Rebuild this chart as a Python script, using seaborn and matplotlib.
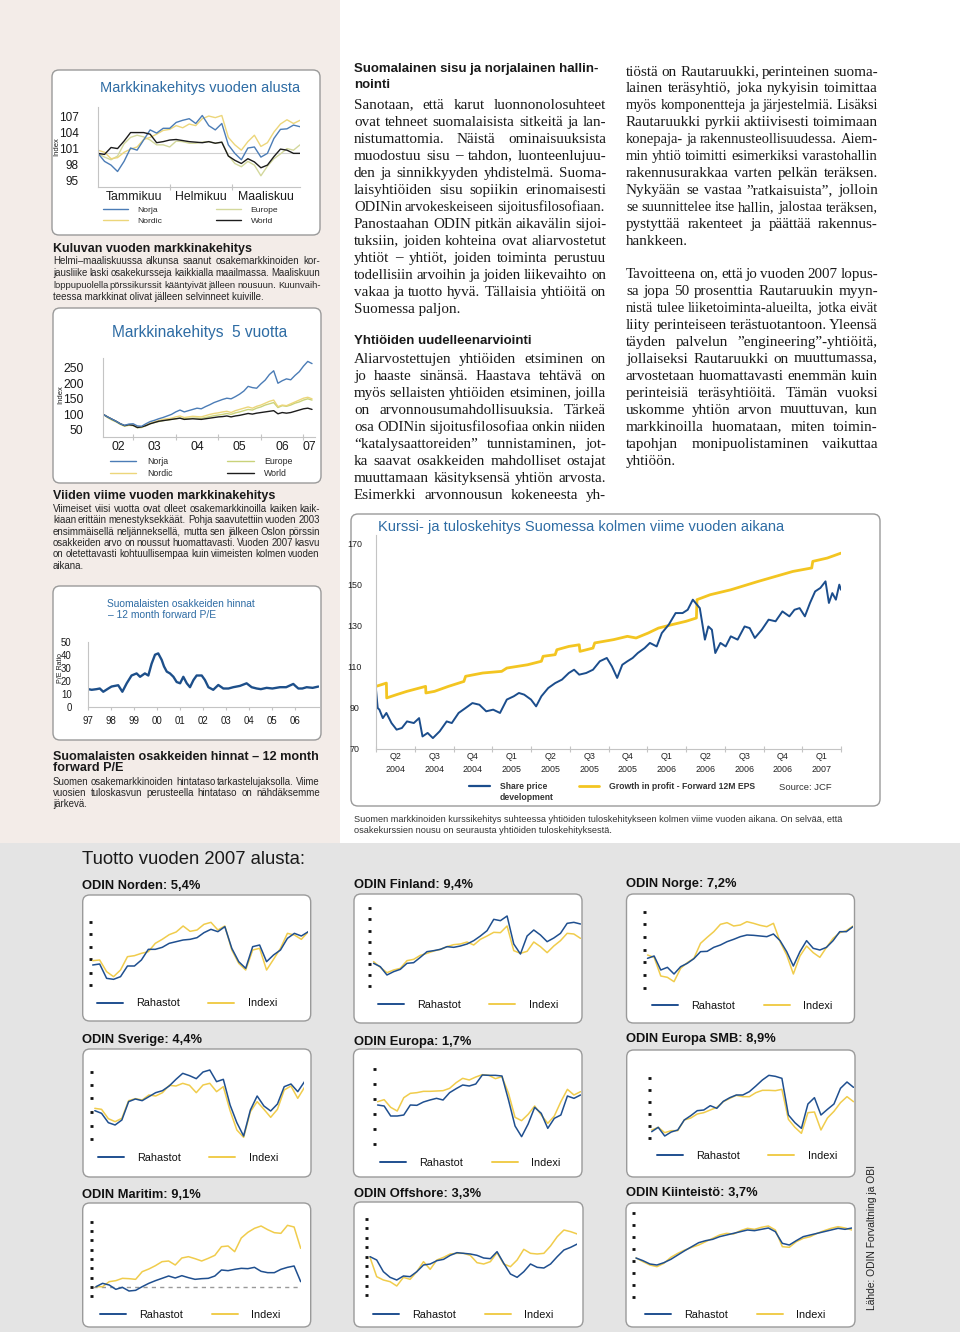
import matplotlib
matplotlib.use("Agg")
import matplotlib.pyplot as plt
import seaborn as sns
from matplotlib.patches import Rectangle, FancyBboxPatch
from matplotlib.lines import Line2D

# ---------------------------------------------------------------- data
# Chart 1: market development since start of year (trading day index)
ytd_day = [0, 2, 4, 6, 8, 10, 12, 14, 16, 18, 20, 22, 24, 26, 28, 30,
           32, 34, 36, 38, 40, 42, 44, 46, 48, 50, 52, 54, 56, 58, 60, 62]
ytd_norja = [100.0, 98.5, 97.8, 96.6, 98.5, 101.0, 100.6, 102.5, 104.4, 103.8, 104.7, 104.7, 105.8, 106.2, 106.5, 105.6,
             107.1, 105.2, 104.4, 105.6, 101.6, 100.0, 98.8, 101.0, 101.2, 99.3, 100.0, 102.8, 104.5, 104.6, 105.3, 105.0]
ytd_nordic = [100.6, 100.2, 99.0, 99.2, 100.2, 100.8, 101.2, 102.6, 103.0, 103.6, 104.3, 104.5, 105.2, 104.8, 105.5, 105.2,
              106.5, 107.0, 106.7, 107.1, 103.0, 101.6, 100.6, 102.2, 103.4, 101.3, 102.0, 104.0, 105.5, 106.3, 105.6, 106.2]
ytd_europe = [100.0, 99.3, 98.8, 99.5, 101.8, 103.0, 103.4, 103.1, 102.5, 101.6, 101.6, 101.2, 102.3, 102.2, 101.9, 101.9,
              102.1, 102.2, 101.9, 102.1, 99.6, 98.1, 97.5, 98.5, 97.8, 95.8, 97.6, 99.0, 99.9, 100.9, 100.6, 101.6]
ytd_world = [100.0, 99.8, 101.1, 100.9, 102.3, 103.9, 103.9, 103.9, 103.6, 102.0, 102.2, 102.5, 102.6, 102.4, 102.2, 102.1,
             102.0, 102.2, 101.9, 102.1, 99.5, 98.7, 98.1, 99.0, 98.4, 97.3, 97.8, 99.4, 100.8, 100.6, 100.0, 100.0]
ytd_ticks = [95, 98, 101, 104, 107]
ytd_month_edges = [0, 22, 41, 62]
ytd_months = ["Tammikuu", "Helmikuu", "Maaliskuu"]
ytd_base = 100

# Chart 2: five-year market development
five_yr = [2002.3, 2002.4, 2002.5, 2002.6, 2002.7, 2002.8, 2002.9, 2003.0, 2003.1, 2003.2,
           2003.3, 2003.4, 2003.5, 2003.6, 2003.7, 2003.8, 2003.9, 2004.0, 2004.1, 2004.2,
           2004.3, 2004.4, 2004.5, 2004.6, 2004.7, 2004.8, 2004.9, 2005.0, 2005.1, 2005.2,
           2005.3, 2005.4, 2005.5, 2005.6, 2005.7, 2005.8, 2005.9, 2006.0, 2006.1, 2006.2,
           2006.3, 2006.4, 2006.5, 2006.6, 2006.7, 2006.8, 2006.9, 2007.0, 2007.1, 2007.2]
five_norja = [100, 92, 85, 78, 70, 65, 69, 70, 63, 62, 70, 77, 81, 86, 90, 95, 100, 108, 114, 108,
              112, 116, 120, 118, 125, 131, 138, 143, 148, 152, 150, 157, 165, 175, 190, 186, 184, 198, 210, 228,
              240, 200, 208, 214, 211, 225, 237, 255, 270, 263]
five_nordic = [100, 92, 84, 78, 70, 64, 67, 66, 59, 60, 66, 72, 76, 80, 84, 86, 88, 92, 95, 90,
               92, 94, 93, 92, 96, 100, 103, 105, 108, 110, 106, 112, 116, 120, 124, 120, 126, 130, 136, 142,
               146, 125, 130, 128, 134, 140, 146, 152, 155, 150]
five_europe = [100, 90, 82, 76, 68, 62, 65, 64, 57, 58, 64, 70, 74, 77, 80, 82, 84, 86, 88, 86,
               87, 88, 88, 87, 90, 93, 96, 98, 100, 103, 100, 105, 108, 112, 116, 114, 120, 124, 130, 134,
               138, 122, 128, 126, 130, 136, 140, 146, 150, 146]
five_world = [100, 92, 85, 78, 70, 64, 67, 65, 58, 60, 64, 70, 74, 78, 80, 82, 84, 86, 88, 84,
              85, 86, 85, 84, 86, 88, 90, 92, 93, 95, 92, 95, 97, 100, 103, 101, 104, 106, 108, 110,
              112, 102, 106, 104, 106, 110, 114, 118, 120, 116]
five_ticks = [50, 100, 150, 200, 250]
five_year_edges = [2003, 2004, 2005, 2006, 2007]
five_year_labels = ["02", "03", "04", "05", "06", "07"]

# Chart 3: Finnish 12 month forward P/E
pe_year = [1997.0, 1997.15, 1997.36, 1997.5, 1997.65, 1997.87, 1998.01, 1998.15, 1998.3, 1998.48,
           1998.67, 1998.88, 1999.1, 1999.25, 1999.46, 1999.61, 1999.75, 1999.9, 2000.04, 2000.19,
           2000.29, 2000.41, 2000.55, 2000.7, 2000.84, 2000.99, 2001.13, 2001.28, 2001.42, 2001.57,
           2001.71, 2001.93, 2002.07, 2002.22, 2002.43, 2002.65, 2002.87, 2003.09, 2003.3, 2003.59,
           2003.88, 2004.1, 2004.32, 2004.5, 2004.75, 2005.0, 2005.33, 2005.6, 2005.91, 2006.0,
           2006.13, 2006.3, 2006.49, 2006.75, 2007.0]
pe_ratio = [13.5, 13.0, 13.5, 14.0, 11.5, 14.0, 15.5, 16.0, 16.5, 11.5,
            18.0, 24.0, 25.6, 23.0, 25.6, 24.0, 33.0, 40.0, 41.0, 36.0,
            31.0, 27.0, 25.6, 23.0, 19.0, 18.0, 23.0, 18.0, 15.0, 20.5,
            24.0, 24.0, 20.5, 15.0, 13.0, 16.7, 14.0, 14.0, 15.0, 16.0,
            18.0, 15.0, 14.0, 13.5, 14.5, 14.0, 15.0, 15.0, 17.5, 16.0,
            14.0, 14.0, 15.0, 14.5, 15.5]
pe_ticks = [0, 10, 20, 30, 40, 50]
pe_tick_years = [1997, 1998, 1999, 2000, 2001, 2002, 2003, 2004, 2005, 2006]
pe_tick_labels = ["97", "98", "99", "00", "01", "02", "03", "04", "05", "06"]

# Chart 4: Finnish share price vs. forward EPS (JCF)
jcf_price_t = [2004.250, 2004.261, 2004.272, 2004.294, 2004.317, 2004.350, 2004.383, 2004.417, 2004.450, 2004.494,
               2004.528, 2004.550, 2004.583, 2004.617, 2004.661, 2004.706, 2004.739, 2004.783, 2004.828, 2004.872,
               2004.917, 2004.961, 2005.006, 2005.050, 2005.094, 2005.139, 2005.172, 2005.206, 2005.250, 2005.283,
               2005.317, 2005.361, 2005.406, 2005.450, 2005.494, 2005.528, 2005.561, 2005.606, 2005.650, 2005.694,
               2005.739, 2005.772, 2005.806, 2005.839, 2005.872, 2005.906, 2005.939, 2005.983, 2006.017, 2006.061,
               2006.094, 2006.139, 2006.183, 2006.228, 2006.261, 2006.294, 2006.339, 2006.372, 2006.394, 2006.417,
               2006.439, 2006.472, 2006.506, 2006.539, 2006.583, 2006.628, 2006.661, 2006.694, 2006.739, 2006.783,
               2006.828, 2006.872, 2006.917, 2006.950, 2006.983, 2007.017, 2007.050, 2007.083, 2007.117, 2007.150,
               2007.172, 2007.194, 2007.217, 2007.239, 2007.250]
jcf_price = [98.8, 89.9, 89.1, 85.0, 87.5, 82.6, 79.4, 80.2, 83.4, 82.6,
             85.0, 76.1, 77.8, 75.3, 78.6, 83.4, 82.6, 87.5, 89.9, 92.3,
             91.5, 88.3, 89.1, 87.5, 94.0, 95.6, 97.2, 96.4, 94.0, 90.7,
             95.6, 99.6, 102.0, 103.7, 106.9, 108.5, 106.1, 106.9, 108.5, 112.6,
             114.2, 110.1, 104.5, 110.9, 112.6, 114.2, 116.6, 119.0, 121.5, 119.8,
             126.3, 130.4, 136.0, 136.0, 137.6, 142.5, 138.4, 123.1, 129.5, 127.9,
             116.6, 121.5, 119.8, 124.7, 123.1, 129.5, 128.7, 123.9, 127.9, 132.8,
             132.0, 136.8, 134.4, 137.6, 138.4, 134.4, 140.9, 146.5, 148.2, 151.4,
             140.9, 145.7, 142.5, 149.8, 147.3]
jcf_eps_t = [2004.250, 2004.317, 2004.319, 2004.383, 2004.450, 2004.570, 2004.572, 2004.628, 2004.717, 2004.817,
             2004.828, 2004.939, 2005.061, 2005.094, 2005.228, 2005.317, 2005.328, 2005.406, 2005.417, 2005.494,
             2005.561, 2005.566, 2005.650, 2005.661, 2005.783, 2005.872, 2005.928, 2006.006, 2006.072, 2006.161,
             2006.250, 2006.317, 2006.321, 2006.406, 2006.539, 2006.717, 2006.828, 2006.939, 2007.061, 2007.068,
             2007.161, 2007.250]
jcf_eps = [100.4, 102.0, 94.8, 96.4, 98.0, 100.4, 97.2, 98.0, 100.4, 102.8,
           105.3, 106.9, 107.7, 109.3, 110.9, 112.6, 115.0, 115.8, 118.2, 119.8,
           120.6, 117.4, 119.0, 121.5, 123.1, 124.7, 123.9, 126.3, 128.7, 130.4,
           132.0, 133.6, 142.5, 144.9, 147.3, 151.4, 153.8, 156.2, 157.9, 161.1,
           162.7, 165.1]
jcf_ticks = [70, 90, 110, 130, 150, 170]
jcf_quarter_edges = [2004.25, 2004.5, 2004.75, 2005.0, 2005.25, 2005.5, 2005.75,
                     2006.0, 2006.25, 2006.5, 2006.75, 2007.0, 2007.25]
jcf_quarters = ["Q2\n2004", "Q3\n2004", "Q4\n2004", "Q1\n2005", "Q2\n2005", "Q3\n2005",
                "Q4\n2005", "Q1\n2006", "Q2\n2006", "Q3\n2006", "Q4\n2006", "Q1\n2007"]

# Fund charts (weekly index levels, fund vs. benchmark)
fund_week = list(range(1, 33))
norden_fund = [125, 128, 85, 82, 90, 122, 122, 140, 172, 172, 178, 190, 195, 200, 202, 207,
               222, 232, 225, 240, 175, 135, 115, 180, 185, 135, 155, 170, 205, 220, 212, 225]
norden_index = [138, 140, 105, 90, 110, 150, 153, 160, 165, 190, 202, 216, 224, 242, 226, 230,
                247, 253, 230, 242, 170, 130, 110, 170, 175, 110, 142, 175, 220, 215, 202, 225]
norden_ticks = [255, 217, 180, 143, 102, 64]
finland_fund = [220, 210, 185, 195, 202, 220, 222, 238, 255, 258, 262, 270, 268, 272, 278, 288,
                302, 318, 352, 348, 362, 278, 248, 302, 320, 305, 285, 296, 310, 340, 343, 338]
finland_index = [225, 208, 192, 200, 205, 228, 232, 244, 250, 257, 262, 270, 276, 278, 284, 275,
                 292, 302, 313, 312, 332, 258, 250, 256, 284, 270, 252, 272, 288, 310, 308, 295]
finland_ticks = [385, 352, 318, 285, 252, 218, 184, 151]
norge_fund = [235, 242, 200, 208, 188, 210, 220, 234, 255, 256, 268, 275, 285, 292, 300, 305,
              304, 302, 300, 308, 288, 255, 212, 255, 288, 265, 260, 268, 288, 315, 315, 330]
norge_index = [245, 238, 182, 178, 165, 205, 222, 235, 280, 298, 315, 337, 342, 332, 335, 345,
               340, 334, 330, 340, 285, 245, 188, 242, 272, 252, 238, 268, 295, 312, 318, 332]
norge_ticks = [375, 337, 299, 261, 223, 184, 146]
sverige_fund = [258, 250, 222, 215, 230, 285, 293, 288, 300, 312, 318, 332, 352, 370, 363, 354,
                374, 380, 345, 352, 275, 222, 182, 260, 302, 272, 257, 278, 330, 338, 315, 345]
sverige_index = [265, 262, 234, 225, 235, 288, 294, 290, 305, 302, 312, 334, 332, 340, 334, 312,
                 335, 340, 315, 330, 258, 200, 178, 255, 285, 262, 238, 262, 320, 332, 295, 328]
sverige_ticks = [375, 335, 295, 255, 213, 173]
europa_fund = [275, 272, 242, 242, 245, 275, 274, 284, 290, 295, 290, 312, 324, 335, 332, 338,
               365, 364, 364, 362, 290, 212, 180, 218, 268, 250, 205, 235, 245, 302, 295, 305]
europa_index = [285, 291, 268, 257, 297, 310, 312, 316, 316, 317, 318, 325, 342, 355, 350, 359,
                366, 364, 354, 360, 310, 238, 228, 247, 272, 245, 220, 242, 285, 322, 305, 315]
europa_ticks = [382, 338, 293, 248, 203, 159]
smb_fund = [195, 208, 182, 194, 200, 230, 243, 258, 260, 273, 265, 286, 297, 305, 305, 315,
            332, 350, 364, 361, 355, 245, 222, 205, 278, 297, 245, 262, 278, 325, 344, 328]
smb_index = [200, 208, 192, 198, 198, 230, 236, 248, 252, 260, 268, 285, 295, 304, 300, 300,
             312, 319, 319, 318, 322, 232, 208, 190, 252, 254, 200, 236, 256, 282, 300, 285]
smb_ticks = [355, 319, 283, 247, 211, 175]
maritim_fund = [180, 190, 185, 172, 178, 167, 169, 180, 190, 198, 205, 212, 206, 213, 207, 202,
                204, 205, 212, 230, 228, 232, 235, 234, 238, 226, 222, 222, 232, 238, 242, 195]
maritim_index = [180, 180, 195, 198, 205, 204, 202, 225, 233, 243, 255, 257, 245, 266, 270, 264,
                 257, 265, 274, 300, 302, 285, 326, 343, 355, 362, 351, 342, 340, 364, 359, 295]
maritim_ticks = [375, 347, 319, 291, 263, 235, 207, 179, 151]
maritim_base = 180
offshore_fund = [270, 260, 225, 208, 200, 212, 210, 225, 245, 248, 258, 262, 274, 282, 280, 278,
                 274, 266, 264, 285, 250, 218, 208, 225, 248, 238, 236, 248, 270, 290, 298, 308]
offshore_index = [268, 210, 200, 195, 182, 208, 202, 225, 255, 232, 260, 268, 278, 280, 280, 274,
                  252, 248, 255, 282, 248, 240, 260, 292, 280, 278, 280, 302, 330, 350, 345, 338]
offshore_ticks = [383, 355, 326, 298, 269, 241, 212, 183, 155]
kiint_fund = [266, 258, 248, 245, 252, 262, 275, 288, 300, 312, 318, 322, 330, 335, 340, 345,
              350, 348, 352, 356, 345, 310, 305, 318, 330, 335, 340, 345, 350, 355, 352, 356]
kiint_index = [266, 255, 245, 240, 250, 268, 280, 290, 298, 305, 315, 325, 335, 340, 338, 348,
               355, 352, 358, 362, 350, 300, 298, 315, 325, 330, 340, 348, 355, 360, 356, 350]
kiint_ticks = [401, 365, 329, 293, 257, 221, 185, 149]

# ---------------------------------------------------------------- text
left_h1 = "Kuluvan vuoden markkinakehitys"
left_p1 = ["Helmi–maaliskuussa alkunsa saanut osakemarkkinoiden kor-",
           "jausliike laski osakekursseja kaikkialla maailmassa. Maaliskuun",
           "loppupuolella pörssikurssit kääntyivät jälleen nousuun. Kuunvaih-",
           "teessa markkinat olivat jälleen selvinneet kuiville."]
left_h2 = "Viiden viime vuoden markkinakehitys"
left_p2 = ["Viimeiset viisi vuotta ovat olleet osakemarkkinoilla kaiken kaik-",
           "kiaan erittäin menestyksekkäät. Pohja saavutettiin vuoden 2003",
           "ensimmäisellä neljänneksellä, mutta sen jälkeen Oslon pörssin",
           "osakkeiden arvo on noussut huomattavasti. Vuoden 2007 kasvu",
           "on oletettavasti kohtuullisempaa kuin viimeisten kolmen vuoden",
           "aikana."]
left_h3 = ["Suomalaisten osakkeiden hinnat – 12 month", "forward P/E"]
left_p3 = ["Suomen osakemarkkinoiden hintataso tarkastelujaksolla. Viime",
           "vuosien tuloskasvun perusteella hintataso on nähdäksemme",
           "järkevä."]
col2_h1 = ["Suomalainen sisu ja norjalainen hallin-", "nointi"]
col2_p1 = ["Sanotaan, että karut luonnonolosuhteet",
           "ovat tehneet suomalaisista sitkeitä ja lan-",
           "nistumattomia. Näistä ominaisuuksista",
           "muodostuu sisu – tahdon, luonteenlujuu-",
           "den ja sinnikkyyden yhdistelmä. Suoma-",
           "laisyhtiöiden sisu sopiikin erinomaisesti",
           "ODINin arvokeskeiseen sijoitusfilosofiaan.",
           "Panostaahan ODIN pitkän aikavälin sijoi-",
           "tuksiin, joiden kohteina ovat aliarvostetut",
           "yhtiöt – yhtiöt, joiden toiminta perustuu",
           "todellisiin arvoihin ja joiden liikevaihto on",
           "vakaa ja tuotto hyvä.  Tällaisia yhtiöitä on",
           "Suomessa paljon."]
col2_h2 = "Yhtiöiden uudelleenarviointi"
col2_p2 = ["Aliarvostettujen yhtiöiden etsiminen on",
           "jo haaste sinänsä. Haastava tehtävä on",
           "myös sellaisten yhtiöiden etsiminen, joilla",
           "on arvonnousumahdollisuuksia. Tärkeä",
           "osa ODINin sijoitusfilosofiaa onkin niiden",
           "“katalysaattoreiden” tunnistaminen, jot-",
           "ka saavat osakkeiden mahdolliset ostajat",
           "muuttamaan käsityksensä yhtiön arvosta.",
           "Esimerkki arvonnousun kokeneesta yh-"]
col3_p1 = ["tiöstä on Rautaruukki, perinteinen suoma-",
           "lainen teräsyhtiö, joka nykyisin toimittaa",
           "myös komponentteja ja järjestelmiä. Lisäksi",
           "Rautaruukki pyrkii aktiivisesti toimimaan",
           "konepaja- ja rakennusteollisuudessa. Aiem-",
           "min yhtiö toimitti esimerkiksi varastohallin",
           "rakennusurakkaa varten pelkän teräksen.",
           "Nykyään se vastaa ”ratkaisuista”, jolloin",
           "se suunnittelee itse hallin, jalostaa teräksen,",
           "pystyttää rakenteet ja päättää rakennus-",
           "hankkeen."]
col3_p2 = ["Tavoitteena on, että jo vuoden 2007 lopus-",
           "sa jopa 50 prosenttia Rautaruukin myyn-",
           "nistä tulee liiketoiminta-alueilta, jotka eivät",
           "liity perinteiseen terästuotantoon. Yleensä",
           "täyden palvelun ”engineering”-yhtiöitä,",
           "jollaiseksi Rautaruukki on muuttumassa,",
           "arvostetaan huomattavasti enemmän kuin",
           "perinteisiä teräsyhtiöitä. Tämän vuoksi",
           "uskomme yhtiön arvon muuttuvan, kun",
           "markkinoilla huomataan, miten toimin-",
           "tapohjan monipuolistaminen vaikuttaa",
           "yhtiöön."]
jcf_caption = ["Suomen markkinoiden kurssikehitys suhteessa yhtiöiden tuloskehitykseen kolmen viime vuoden aikana. On selvää, että",
               "osakekurssien nousu on seurausta yhtiöiden tuloskehityksestä."]

# ---------------------------------------------------------------- style
sns.set_theme(style="white")
plt.rcParams['font.family'] = ['Liberation Sans', 'DejaVu Sans']
SERIF = ['Liberation Serif', 'DejaVu Serif']

PINK = '#f3ece8'
GREY = '#e4e4e4'
TITLE_BLUE = '#2e6ca4'
NORJA_C = '#4b7cb6'
NORDIC_C = '#ecd67a'
EUROPE_C = '#d3d89c'
WORLD_C = '#1c1c1c'
NAVY = '#1b4d8c'
GOLD = '#f3c521'
FUND_C = '#1f4f8f'
INDEX_C = '#f0cc4c'
AXIS_C = '#c4c4c4'
TXT = '#1a1a1a'

W, H = 960, 1332
fig = plt.figure(figsize=(W / 100, H / 100), dpi=100)
fig.patch.set_facecolor('white')
bg = fig.add_axes([0, 0, 1, 1])
bg.set_xlim(0, W)
bg.set_ylim(H, 0)
bg.axis('off')
bg.set_zorder(0)
R = fig.canvas.get_renderer()

bg.add_patch(Rectangle((0, 0), 340, 843, fc=PINK, ec='none', zorder=0))
bg.add_patch(Rectangle((0, 843), W, H - 843, fc=GREY, ec='none', zorder=0))


def rbox(x0, y0, x1, y1, r=7):
    bg.add_patch(FancyBboxPatch((x0, y0), x1 - x0, y1 - y0,
                                boxstyle=f"round,pad=0,rounding_size={r}",
                                fc='white', ec='#9a9a9a', lw=1.0, zorder=1))


def add_ax(x0, y0, x1, y1):
    ax = fig.add_axes([x0 / W, 1 - y1 / H, (x1 - x0) / W, (y1 - y0) / H])
    ax.set_facecolor('none')
    ax.set_zorder(2)
    for s in ax.spines.values():
        s.set_visible(False)
    return ax


def T(x, y, s, **kw):
    kw.setdefault('va', 'center')
    kw.setdefault('ha', 'left')
    kw.setdefault('color', TXT)
    return bg.text(x, y, s, **kw)


def width(t):
    return t.get_window_extent(R).width


def fit(t, target):
    t.set_fontsize(t.get_fontsize() * target / width(t))
    return t


def justify(lines, x0, x1, y0, dy, finals, size, min_space=0.2, **kw):
    """Justified paragraph; a line too long for the measure is set slightly smaller."""
    kw.setdefault('color', TXT)
    avail = x1 - x0
    px = size * 100 / 72
    off = 0.30 * px
    for i, line in enumerate(lines):
        y = y0 + i * dy + off
        words = line.split()
        if i in finals or len(words) < 2:
            t = bg.text(x0, y, ' '.join(words), ha='left', va='baseline', fontsize=size, **kw)
            if width(t) > avail:
                fit(t, avail)
            continue
        ts = [bg.text(0, y, w, ha='left', va='baseline', fontsize=size, **kw) for w in words]
        ws = [width(t) for t in ts]
        need = sum(ws) + min_space * px * (len(words) - 1)
        if need > avail:
            s = (avail - min_space * px * (len(words) - 1)) / sum(ws)
            for t in ts:
                t.set_fontsize(size * s)
            ws = [w * s for w in ws]
        gap = (avail - sum(ws)) / (len(words) - 1)
        x = x0
        for t, w in zip(ts, ws):
            t.set_x(x)
            x += w + gap


def style_axes(ax):
    for k in ('left', 'bottom'):
        ax.spines[k].set_visible(True)
        ax.spines[k].set_color(AXIS_C)
        ax.spines[k].set_linewidth(0.8)
    ax.set_xlabel('')
    ax.set_ylabel('')


def line(ax, x, y, color, lw):
    sns.lineplot(x=x, y=y, ax=ax, color=color, linewidth=lw, estimator=None, sort=False, legend=False)


# ---------------------------------------------------------------- chart 1
rbox(52, 70, 320, 235)
fit(T(100, 88, "Markkinakehitys vuoden alusta", fontsize=10, color=TITLE_BLUE), 199)
ax1 = add_ax(98, 106.7, 300, 186.7)
ax1.axhline(ytd_base, color='#d0d0d0', lw=0.8, zorder=0)
line(ax1, ytd_day, ytd_europe, EUROPE_C, 1.0)
line(ax1, ytd_day, ytd_nordic, NORDIC_C, 1.0)
line(ax1, ytd_day, ytd_norja, NORJA_C, 1.0)
line(ax1, ytd_day, ytd_world, WORLD_C, 1.0)
ax1.set_xlim(0, 62)
ax1.set_ylim(93.75, 108.75)
style_axes(ax1)
ax1.set_yticks(ytd_ticks)
ax1.set_yticklabels([str(v) for v in ytd_ticks])
ax1.tick_params(axis='y', left=False, pad=8, labelsize=8.5, labelcolor=TXT)
ax1.set_xticks(ytd_month_edges[1:-1])
ax1.set_xticklabels([])
ax1.set_xticks([(a + b) / 2 for a, b in zip(ytd_month_edges[:-1], ytd_month_edges[1:])], minor=True)
ax1.set_xticklabels(ytd_months, minor=True)
ax1.tick_params(axis='x', which='major', bottom=True, length=5, width=0.8, direction='inout', color=AXIS_C)
ax1.tick_params(axis='x', which='minor', bottom=True, length=0, pad=3, labelsize=8.8, labelcolor=TXT)
T(56.7, 147, "Index", rotation=90, ha='center', fontsize=5.5)
h1 = [Line2D([], [], color=c, lw=1.0) for c in (NORJA_C, NORDIC_C, EUROPE_C, WORLD_C)]
ax1.legend(h1, ["Norja", "Nordic", "Europe", "World"], ncol=2, loc='upper left',
           bbox_to_anchor=(103 / W, 1 - 206.5 / H), bbox_transform=fig.transFigure,
           frameon=False, fontsize=6.1, handlelength=3.0, handletextpad=1.1,
           columnspacing=6.3, labelspacing=0.3, borderpad=0, borderaxespad=0)

# ---------------------------------------------------------------- chart 2
rbox(53, 308, 321, 483)
fit(T(200, 333, "Markkinakehitys  5 vuotta", ha='center', fontsize=10.5, color=TITLE_BLUE), 177)
ax2 = add_ax(103.3, 358.3, 315, 436.7)
line(ax2, five_yr, five_europe, '#c9d27a', 1.0)
line(ax2, five_yr, five_nordic, NORDIC_C, 1.0)
line(ax2, five_yr, five_world, WORLD_C, 1.0)
line(ax2, five_yr, five_norja, NORJA_C, 1.0)
x2min, x2max = 2002.3, 2007.27
ax2.set_xlim(x2min, x2max)
ax2.set_ylim(28.5, 280)
style_axes(ax2)
ax2.set_yticks(five_ticks)
ax2.set_yticklabels([str(v) for v in five_ticks])
ax2.tick_params(axis='y', left=False, pad=8.3, labelsize=8.8, labelcolor=TXT)
ax2.set_xticks(five_year_edges)
ax2.set_xticklabels([])
bounds = [x2min] + five_year_edges + [x2max]
ax2.set_xticks([(a + b) / 2 for a, b in zip(bounds[:-1], bounds[1:])], minor=True)
ax2.set_xticklabels(five_year_labels, minor=True)
ax2.tick_params(axis='x', which='major', bottom=True, length=5, width=0.8, direction='inout', color=AXIS_C)
ax2.tick_params(axis='x', which='minor', bottom=True, length=0, pad=3, labelsize=8.8, labelcolor=TXT)
T(60.7, 395, "Index", rotation=90, ha='center', fontsize=5.5)
h2 = [Line2D([], [], color=c, lw=1.0) for c in (NORJA_C, NORDIC_C, '#c9d27a', WORLD_C)]
ax2.legend(h2, ["Norja", "Nordic", "Europe", "World"], ncol=2, loc='upper left',
           bbox_to_anchor=(110 / W, 1 - 457.5 / H), bbox_transform=fig.transFigure,
           frameon=False, fontsize=6.3, handlelength=3.0, handletextpad=1.2,
           columnspacing=6.3, labelspacing=0.3, borderpad=0, borderaxespad=0)

# ---------------------------------------------------------------- chart 3
rbox(53, 586, 321, 740)
t = fit(T(106.7, 604, "Suomalaisten osakkeiden hinnat", fontsize=7, color=TITLE_BLUE), 147)
T(108.3, 615.5, "– 12 month forward P/E", fontsize=t.get_fontsize(), color=TITLE_BLUE)
ax3 = add_ax(88.3, 641.7, 319.3, 706.7)
line(ax3, pe_year, pe_ratio, '#1d4f8a', 1.7)
ax3.set_xlim(1997, 2007.04)
ax3.set_ylim(0, 50)
style_axes(ax3)
ax3.set_yticks(pe_ticks)
ax3.set_yticklabels([str(v) for v in pe_ticks])
ax3.tick_params(axis='y', left=False, pad=6, labelsize=6.9, labelcolor=TXT)
ax3.set_xticks(pe_tick_years)
ax3.set_xticklabels(pe_tick_labels)
ax3.tick_params(axis='x', bottom=True, length=2.5, width=0.8, direction='out', color=AXIS_C,
                pad=4, labelsize=6.9, labelcolor=TXT)
T(60, 668, "P/E Ratio", rotation=90, ha='center', fontsize=5)

# ---------------------------------------------------------------- left column text
fs_left = 7.0
fit(T(53, 249, left_h1, fontsize=9.5, fontweight='bold'), 199)
justify(left_p1, 53, 320, 261.5, 11.9, [3], fs_left, color='#262626')
fit(T(53, 496, left_h2, fontsize=9.5, fontweight='bold'), 224)
justify(left_p2, 53, 320, 509.3, 11.27, [5], fs_left, color='#262626')
t = fit(T(53, 756.7, left_h3[0], fontsize=10, fontweight='bold'), 267)
T(53, 768.3, left_h3[1], fontsize=t.get_fontsize(), fontweight='bold')
justify(left_p3, 53, 320, 781.7, 11.2, [2], fs_left, color='#262626')

# ---------------------------------------------------------------- columns 2 and 3
t = fit(T(354, 69, col2_h1[0], fontsize=8.3, fontweight='bold'), 244)
hs = t.get_fontsize()
T(354, 85, col2_h1[1], fontsize=hs, fontweight='bold')
T(354, 341, col2_h2, fontsize=hs, fontweight='bold')
fs_serif = 10.9
justify(col2_p1, 354, 606, 104, 17.0, [12], fs_serif, family=SERIF)
justify(col2_p2, 354, 606, 358, 17.0, [], fs_serif, family=SERIF)
justify(col3_p1, 626, 878, 71, 16.9, [10], fs_serif, family=SERIF)
justify(col3_p2, 626, 878, 273, 17.0, [11], fs_serif, family=SERIF)

# ---------------------------------------------------------------- chart 4 (JCF)
rbox(351, 514, 880, 806)
fit(T(378, 527, "Kurssi- ja tuloskehitys Suomessa kolmen viime vuoden aikana", fontsize=9.2,
      color=TITLE_BLUE), 403)
axb = add_ax(376, 535, 841, 749)
line(axb, jcf_eps_t, jcf_eps, GOLD, 2.0)
line(axb, jcf_price_t, jcf_price, NAVY, 1.4)
axb.set_xlim(jcf_quarter_edges[0], jcf_quarter_edges[-1])
axb.set_ylim(70, 173.9)
style_axes(axb)
axb.set_yticks(jcf_ticks)
axb.set_yticklabels([str(v) for v in jcf_ticks])
axb.tick_params(axis='y', left=False, pad=9.4, labelsize=6.4, labelcolor='#222')
for lab in axb.get_yticklabels():
    lab.set_horizontalalignment('center')
axb.set_xticks(jcf_quarter_edges)
axb.set_xticklabels([])
axb.set_xticks([(a + b) / 2 for a, b in zip(jcf_quarter_edges[:-1], jcf_quarter_edges[1:])], minor=True)
axb.set_xticklabels(jcf_quarters, minor=True, linespacing=1.55)
axb.tick_params(axis='x', which='major', bottom=True, length=4, width=0.8, direction='inout', color=AXIS_C)
axb.tick_params(axis='x', which='minor', bottom=True, length=0, pad=2.5, labelsize=6.4, labelcolor='#222')
hb = [Line2D([], [], color=NAVY, lw=1.6), Line2D([], [], color=GOLD, lw=2.0)]
axb.legend(hb, ["Share price", "Growth in profit - Forward 12M EPS"], ncol=2, loc='center left',
           bbox_to_anchor=(469 / W, 1 - 786.5 / H), bbox_transform=fig.transFigure,
           frameon=False, prop={'size': 6.2, 'weight': 'bold'}, handlelength=2.4,
           handletextpad=1.15, columnspacing=3.7, borderpad=0, borderaxespad=0,
           labelcolor='#333')
T(500, 797, "development", fontsize=6.2, fontweight='bold', color='#333')
T(779, 787.5, "Source: JCF", fontsize=6.8, color='#333')
t = fit(T(354, 819, jcf_caption[0], fontsize=6.3, color='#333'), 487)
T(354, 830.5, jcf_caption[1], fontsize=t.get_fontsize(), color='#333')

# ---------------------------------------------------------------- fund charts
fit(T(82, 860, "Tuotto vuoden 2007 alusta:", fontsize=13.5), 224)

small = [
    ("ODIN Norden: 5,4%", (82, 886), norden_fund, norden_index, norden_ticks, 840,
     (82.7, 895, 310.7, 1021), (92.7, 308.3), 90.7, (96.7, 1003.5), None),
    ("ODIN Finland: 9,4%", (354, 885), finland_fund, finland_index, finland_ticks, 870,
     (354, 894, 582, 1023), (373.6, 580.5), 369.6, (377.5, 1005), None),
    ("ODIN Norge: 7,2%", (626, 884), norge_fund, norge_index, norge_ticks, 870,
     (626.5, 894, 854.5, 1023), (647.5, 853), 644.3, (652, 1006), None),
    ("ODIN Sverige: 4,4%", (82, 1040), sverige_fund, sverige_index, sverige_ticks, 1030,
     (83, 1049, 311, 1177), (94.8, 304.5), 91.4, (97.6, 1158), None),
    ("ODIN Europa: 1,7%", (354, 1041.5), europa_fund, europa_index, europa_ticks, 1030,
     (353.5, 1049, 582, 1177), (377.6, 580.5), 374.1, (380, 1163), None),
    ("ODIN Europa SMB: 8,9%", (626, 1039), smb_fund, smb_index, smb_ticks, 1030,
     (626.7, 1050, 855, 1177), (651.7, 853.5), 649.3, (656.7, 1156), None),
    ("ODIN Maritim: 9,1%", (82, 1195), maritim_fund, maritim_index, maritim_ticks, 1180,
     (82.7, 1203, 310.7, 1327), (96, 300.7), 91.7, (100, 1315), maritim_base),
    ("ODIN Offshore: 3,3%", (354, 1194), offshore_fund, offshore_index, offshore_ticks, 1180,
     (354, 1202, 583, 1327), (370, 577.3), 366, (373, 1315), None),
    ("ODIN Kiinteistö: 3,7%", (626, 1193), kiint_fund, kiint_index, kiint_ticks, 1180,
     (626, 1203, 855, 1327), (636, 852), 633, (645, 1315), None),
]

title_fs = None
for title, tpos, fund, idx, ticks, oy, bx, (xa, xb), dotx, (lx, ly), base in small:
    rbox(*bx)
    tt = T(tpos[0], tpos[1], title, fontsize=8.5, fontweight='bold', color='#111')
    if title_fs is None:
        fit(tt, 118)
        title_fs = tt.get_fontsize()
    else:
        tt.set_fontsize(title_fs)
    ax = add_ax(dotx + 1.5, bx[1], xb, bx[3])
    n = len(fund)
    step = (xb - xa) / (n - 1)
    ax.set_xlim(fund_week[0] - (xa - dotx - 1.5) / step, fund_week[-1])
    ax.set_ylim(500 - 3 * (bx[3] - oy), 500 - 3 * (bx[1] - oy))
    if base is not None:
        ax.axhline(base, color='#9a9a9a', lw=1.0, ls=(0, (3, 3)), zorder=0)
    line(ax, fund_week, idx, INDEX_C, 1.1)
    line(ax, fund_week, fund, FUND_C, 1.1)
    ax.set_xlabel('')
    ax.set_ylabel('')
    ax.set_yticks(ticks)
    ax.set_yticklabels([])
    ax.tick_params(axis='y', left=True, length=2.2, width=2.0, color='#111', direction='out')
    ax.set_xticks([])
    hs_ = [Line2D([], [], color=FUND_C, lw=1.4), Line2D([], [], color=INDEX_C, lw=1.4)]
    ax.legend(hs_, ["Rahastot", "Indexi"], ncol=2, loc='center left',
              bbox_to_anchor=(lx / W, 1 - ly / H), bbox_transform=fig.transFigure,
              frameon=False, fontsize=7.8, handlelength=2.4, handletextpad=1.25,
              columnspacing=2.6, borderpad=0, borderaxespad=0, labelcolor='#111')

T(872, 1238, "Lähde: ODIN Forvaltning ja OBI", rotation=90, ha='center', fontsize=7.4, color='#222')

fig.savefig('out.png', dpi=100, facecolor='white')
